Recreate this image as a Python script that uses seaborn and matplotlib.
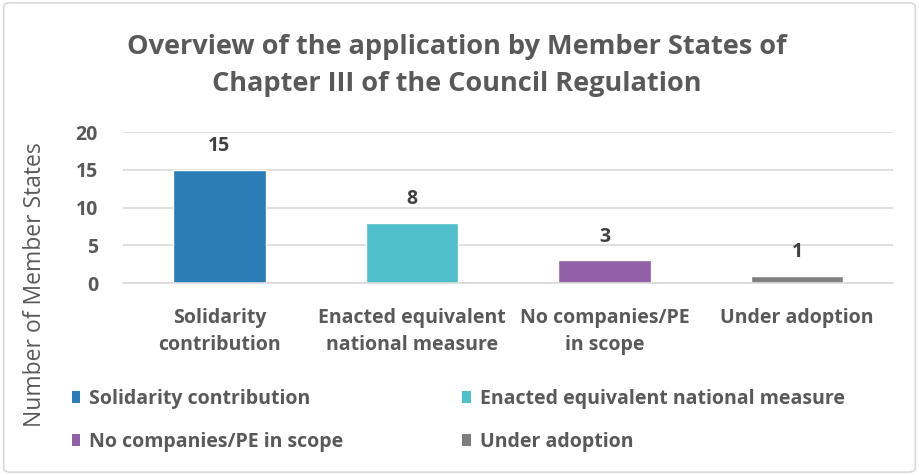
import matplotlib
matplotlib.use("Agg")
import matplotlib.pyplot as plt
import pandas as pd
import seaborn as sns
from matplotlib.patches import Patch, FancyBboxPatch

#%% data
categories = ['Solidarity contribution', 'Enacted equivalent national measure',
              'No companies/PE in scope', 'Under adoption']
tick_labels = ['Solidarity\ncontribution', 'Enacted equivalent\nnational measure',
               'No companies/PE\nin scope', 'Under adoption']
counts = [15, 8, 3, 1]
colors = ['#2A7DB7', '#4FBFCB', '#9160A6', '#7F7F7F']

df = pd.DataFrame({'category': categories, 'count': counts})

#%% plot
sns.set_style('white')
plt.rcParams['font.family'] = ['Open Sans', 'DejaVu Sans']
txt = '#595959'

fig = plt.figure(figsize=(9.19, 4.75), dpi=100)
ax = fig.add_axes([0.134, 0.404, 0.838, 0.318])

sns.barplot(data=df, x='category', y='count', hue='category', palette=colors,
            width=0.48, legend=False, ax=ax, saturation=1)

ax.set_ylim(0, 20)
ax.set_yticks([0, 5, 10, 15, 20])
ax.yaxis.grid(True, color='#D9D9D9', lw=1.2)
ax.set_axisbelow(True)
for s in ['top', 'right', 'left']:
    ax.spines[s].set_visible(False)
ax.spines['bottom'].set_color('#D9D9D9')
ax.spines['bottom'].set_linewidth(1.2)

ax.set_xticks([0, 1, 2, 3])
ax.set_xticklabels(tick_labels, fontsize=14, fontweight='bold', color=txt, linespacing=1.45)
ax.tick_params(axis='x', length=0, pad=18)
ax.set_xticks([-0.5, 0.5, 1.5, 2.5, 3.5], minor=True)
ax.tick_params(axis='x', which='minor', length=6, color='#D9D9D9', width=1.2)
ax.tick_params(axis='y', length=0, labelsize=14, labelcolor=txt, pad=18)
for t in ax.get_yticklabels():
    t.set_fontweight('bold')
ax.set_xlabel('')
ax.set_ylabel('')

for c in ax.containers:
    ax.bar_label(c, padding=10, fontsize=14, fontweight='bold', color='#404040')

fig.text(0.038, 0.40, 'Number of Member States', rotation=90, ha='center', va='center',
         fontsize=16.5, color=txt)

fig.text(0.497, 0.862, 'Overview of the application by Member States of\nChapter III of the Council Regulation',
         ha='center', va='center', fontsize=19.5, fontweight='bold', color=txt, linespacing=1.55)

# row-wise order in a 2 column legend
order = [0, 2, 1, 3]
handles = [Patch(facecolor=colors[i], edgecolor='none') for i in order]
labels = [categories[i] for i in order]
leg = fig.legend(handles, labels, ncol=2, loc='upper left', bbox_to_anchor=(0.078, 0.182),
                 frameon=False, handlelength=0.45, handleheight=0.6, handletextpad=0.45,
                 columnspacing=6.1, labelspacing=1.2, fontsize=14, borderaxespad=0, borderpad=0)
for t in leg.get_texts():
    t.set_fontweight('bold')
    t.set_color(txt)

fig.patches.append(FancyBboxPatch((0.004, 0.006), 0.992, 0.988, boxstyle='round,pad=0,rounding_size=0.008',
                                  transform=fig.transFigure, fill=False, edgecolor='#D9D9D9', lw=1.2))

plt.savefig('out.png', dpi=100)
